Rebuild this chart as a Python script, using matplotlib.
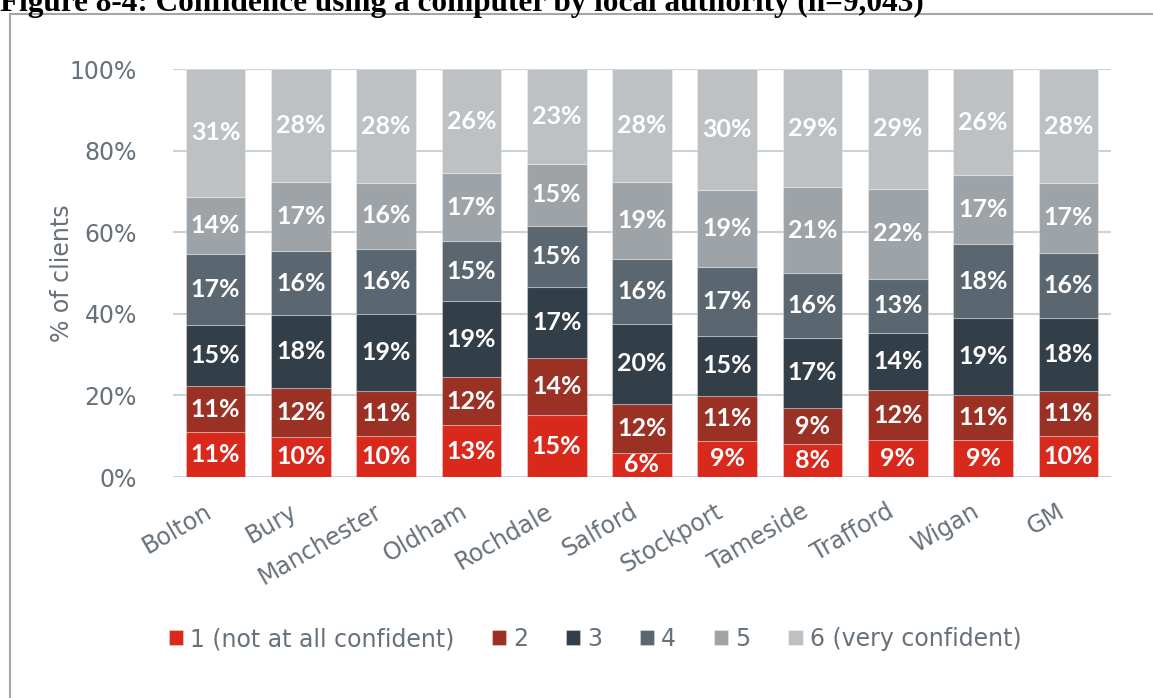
import numpy as np
import matplotlib
matplotlib.use('Agg')
import matplotlib.pyplot as plt
from matplotlib.lines import Line2D

plt.rcParams['font.family'] = ['DejaVu Sans']

authorities = ['Bolton', 'Bury', 'Manchester', 'Oldham', 'Rochdale', 'Salford',
               'Stockport', 'Tameside', 'Trafford', 'Wigan', 'GM']
levels = ['1 (not at all confident)', '2', '3', '4', '5', '6 (very confident)']

# % of clients at each confidence level (bottom to top), as labelled
lvl1 = [11, 10, 10, 13, 15, 6, 9, 8, 9, 9, 10]
lvl2 = [11, 12, 11, 12, 14, 12, 11, 9, 12, 11, 11]
lvl3 = [15, 18, 19, 19, 17, 20, 15, 17, 14, 19, 18]
lvl4 = [17, 16, 16, 15, 15, 16, 17, 16, 13, 18, 16]
lvl5 = [14, 17, 16, 17, 15, 19, 19, 21, 22, 17, 17]
lvl6 = [31, 28, 28, 26, 23, 28, 30, 29, 29, 26, 28]

colors = ['#D9291C', '#9B3024', '#323E48', '#5B6770', '#9EA3A8', '#BDC1C4']
tick_col = '#66717A'

series = np.array([lvl1, lvl2, lvl3, lvl4, lvl5, lvl6], dtype=float)
shares = series / series.sum(axis=0)  # 100% stacked

fig = plt.figure(figsize=(11.53, 6.98), dpi=100)
ax = fig.add_axes([0.150, 0.3166, 0.8136, 0.5845])

x = np.arange(len(authorities))
bottom = np.zeros(len(authorities))
for i in range(len(levels)):
    ax.bar(x, shares[i], 0.70, bottom=bottom, color=colors[i], label=levels[i],
           edgecolor=(1, 1, 1, 0.3), linewidth=0.8, zorder=3)
    for j in range(len(authorities)):
        ax.text(x[j], bottom[j] + shares[i][j] / 2, '%d%%' % series[i][j],
                ha='center', va='center', color='white', fontsize=18,
                fontweight='bold', family='Lato', zorder=4)
    bottom += shares[i]

ax.set_xlim(-0.5, len(authorities) - 0.5)
ax.set_ylim(0, 1)
ax.set_yticks(np.arange(0, 1.01, 0.2))
ax.set_yticklabels(['%d%%' % v for v in range(0, 101, 20)])
ax.set_xticks(x)
ax.set_xticklabels(authorities, rotation=30, ha='right', va='top')
ax.tick_params(axis='both', length=0, colors=tick_col, labelsize=17)
ax.tick_params(axis='y', pad=26)
ax.tick_params(axis='x', pad=16)
ax.yaxis.grid(True, color='#CDD1D4', linewidth=1.5, zorder=0)
for s in ax.spines.values():
    s.set_visible(False)
ax.set_ylabel('% of clients', fontsize=17, color=tick_col)
ax.yaxis.set_label_coords(-0.1055, 0.5)

fig.legend(loc='center', bbox_to_anchor=(0.516, 0.0845), ncol=6, frameon=False,
           fontsize=17, handlelength=0.6, handleheight=0.6, handletextpad=0.3,
           columnspacing=1.6, labelcolor=tick_col)

fig.text(0.0, 1 - 11 / 698, 'Figure 8-4: Confidence using a computer by local authority (n=9,043)',
         family='Liberation Serif', fontweight='bold', fontsize=22.5, va='baseline', ha='left')

# chart frame (only left and top edges visible)
fig.add_artist(Line2D([10 / 1153, 10 / 1153], [0, 1 - 14 / 698], transform=fig.transFigure,
                      color='#A6A6A6', linewidth=1.5))
fig.add_artist(Line2D([10 / 1153, 1], [1 - 14 / 698, 1 - 14 / 698], transform=fig.transFigure,
                      color='#A6A6A6', linewidth=1.5))

fig.savefig('out.png', dpi=100)
